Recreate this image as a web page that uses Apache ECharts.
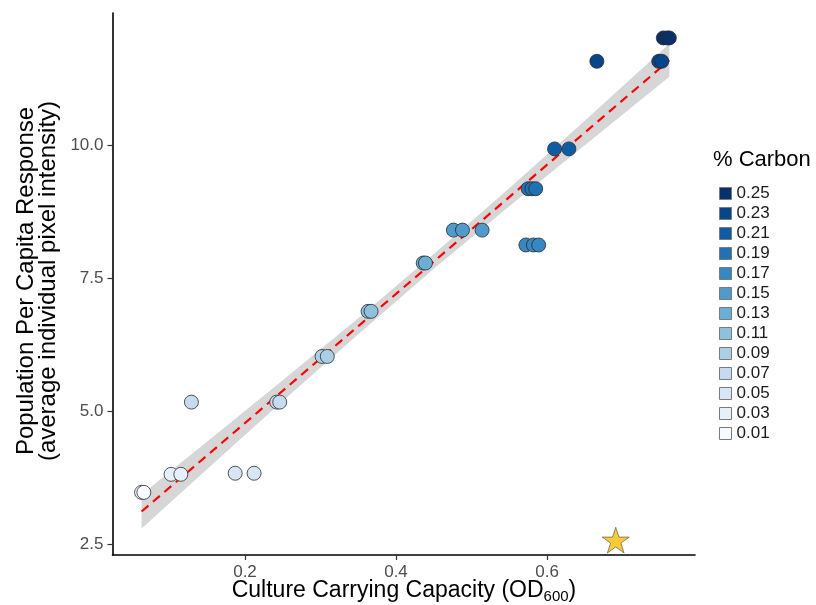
<!DOCTYPE html>
<html><head><meta charset="utf-8">
<script src="https://cdn.jsdelivr.net/npm/echarts@6/dist/echarts.min.js"></script>
<style>html,body{margin:0;padding:0;background:#fff}#c{width:816px;height:605px}</style>
</head><body><div id="c"></div>
<script>
// ---- data ----
const carbonLevels = ['0.01','0.03','0.05','0.07','0.09','0.11','0.13','0.15','0.17','0.19','0.21','0.23','0.25'];
const levelColors = ['#f7fbff','#e6f0fa','#d6e6f4','#c6dbef','#abd0e6','#8dc1dd','#6baed6','#509bcb','#3787c0','#2171b5','#105ca4','#08468c','#08306b'];
const capacityX = [
  [0.063, 0.066],
  [0.102, 0.115],
  [0.187, 0.212],
  [0.129, 0.242, 0.246],
  [0.302, 0.309],
  [0.363, 0.367],
  [0.436, 0.439],
  [0.476, 0.488, 0.514],
  [0.572, 0.582, 0.589],
  [0.575, 0.580, 0.585],
  [0.610, 0.629],
  [0.666, 0.748, 0.752],
  [0.754, 0.759, 0.762]
];
const responseY = [3.47, 3.81, 3.83, 5.17, 6.03, 6.88, 7.79, 8.41, 8.13, 9.19, 9.94, 11.59, 12.03];
const starX = [0.691];
const starY = [2.57];
const fitX = [0.063, 0.762];
const fitY = [3.11, 11.61];
const bandX = [0.063, 0.15, 0.25, 0.35, 0.45, 0.55, 0.65, 0.762];
const bandLow = [2.79, 3.91, 5.19, 6.45, 7.68, 8.86, 10.01, 11.30];
const bandHigh = [3.43, 4.43, 5.58, 6.75, 7.96, 9.20, 10.47, 11.92];
const xTicks = [0.2, 0.4, 0.6];
const yTicks = [2.5, 5.0, 7.5, 10.0];

// ---- chart ----
const FF = '"Liberation Sans", Arial, Helvetica, sans-serif';
const chart = echarts.init(document.getElementById('c'), null, {renderer: 'canvas'});

const pointSeries = carbonLevels.map((lv, i) => ({
  name: lv,
  type: 'scatter',
  data: capacityX[i].map(x => [x, responseY[i]]),
  symbol: 'circle',
  symbolSize: 14,
  itemStyle: {color: levelColors[i], borderColor: '#2b2b2b', borderWidth: 0.8, opacity: 1},
  emphasis: {disabled: true},
  z: 5
}));

const starPath = 'path://M0,-1 L0.2245,-0.309 L0.951,-0.309 L0.363,0.118 L0.588,0.809 L0,0.382 L-0.588,0.809 L-0.363,0.118 L-0.951,-0.309 L-0.2245,-0.309 Z';

const option = {
  animation: false,
  backgroundColor: '#fff',
  textStyle: {fontFamily: FF},
  grid: {left: 112.5, right: 121, top: 13, bottom: 50, containLabel: false},
  xAxis: {
    type: 'value', min: 0.0245, max: 0.796,
    axisLine: {show: true, lineStyle: {color: '#000', width: 1.6}},
    axisTick: {show: true, customValues: xTicks, length: 5, lineStyle: {color: '#333', width: 1.2}},
    axisLabel: {customValues: xTicks, formatter: v => v.toFixed(1), color: '#4d4d4d', fontSize: 17, fontFamily: FF, margin: 9},
    splitLine: {show: false}
  },
  yAxis: {
    type: 'value', min: 2.29, max: 12.5,
    axisLine: {show: true, lineStyle: {color: '#000', width: 1.6}},
    axisTick: {show: true, customValues: yTicks, length: 5, lineStyle: {color: '#333', width: 1.2}},
    axisLabel: {customValues: yTicks, formatter: v => v.toFixed(1), color: '#4d4d4d', fontSize: 17, fontFamily: FF, margin: 9},
    splitLine: {show: false}
  },
  legend: {
    data: carbonLevels.slice().reverse(),
    orient: 'vertical', left: 719, top: 185, padding: 0,
    icon: 'rect', itemWidth: 12, itemHeight: 12, itemGap: 3,
    selectedMode: false,
    itemStyle: {borderColor: '#7a7a7a', borderWidth: 1},
    textStyle: {fontSize: 17, color: '#1a1a1a', fontFamily: FF}
  },
  graphic: [
    {type: 'text', left: 713, top: 149, style: {text: '% Carbon', fontSize: 22, fontFamily: FF, fill: '#000'}},
    {type: 'text', x: 26, y: 281, rotation: Math.PI / 2,
      style: {text: 'Population Per Capita Response', fontSize: 24, fontFamily: FF, fill: '#000', align: 'center', verticalAlign: 'middle'}},
    {type: 'text', x: 48, y: 281, rotation: Math.PI / 2,
      style: {text: '(average individual pixel intensity)', fontSize: 24, fontFamily: FF, fill: '#000', align: 'center', verticalAlign: 'middle'}},
    {type: 'text', x: 404, y: 591,
      style: {text: '{a|Culture Carrying Capacity (OD}{s|600}{a|)}', align: 'center', verticalAlign: 'middle',
        rich: {a: {fontSize: 23, fontFamily: FF, fill: '#000', lineHeight: 27},
               s: {fontSize: 15, fontFamily: FF, fill: '#000', verticalAlign: 'bottom', lineHeight: 15}}}}
  ],
  series: [
    {
      type: 'custom', silent: true, z: 1,
      data: bandX.map((x, i) => [x, bandLow[i], bandHigh[i]]),
      encode: {x: 0, y: [1, 2]},
      renderItem: (params, api) => {
        if (params.dataIndex !== 0) return null;
        const pts = [];
        for (let i = 0; i < bandX.length; i++) pts.push(api.coord([bandX[i], bandHigh[i]]));
        for (let i = bandX.length - 1; i >= 0; i--) pts.push(api.coord([bandX[i], bandLow[i]]));
        return {type: 'polygon', shape: {points: pts}, style: {fill: '#d6d6d6'}};
      }
    },
    {
      type: 'line', silent: true, z: 2,
      data: fitX.map((x, i) => [x, fitY[i]]),
      symbol: 'none',
      lineStyle: {color: '#ff0000', width: 2.2, type: [9, 6]}
    },
    ...pointSeries,
    {
      type: 'scatter', silent: true, z: 6,
      data: starX.map((x, i) => [x, starY[i]]),
      symbol: starPath, symbolSize: 27, symbolKeepAspect: true,
      itemStyle: {color: '#f8bd06', borderColor: '#4d4d4d', borderWidth: 0.8}
    }
  ]
};
chart.setOption(option);
</script>
</body></html>
